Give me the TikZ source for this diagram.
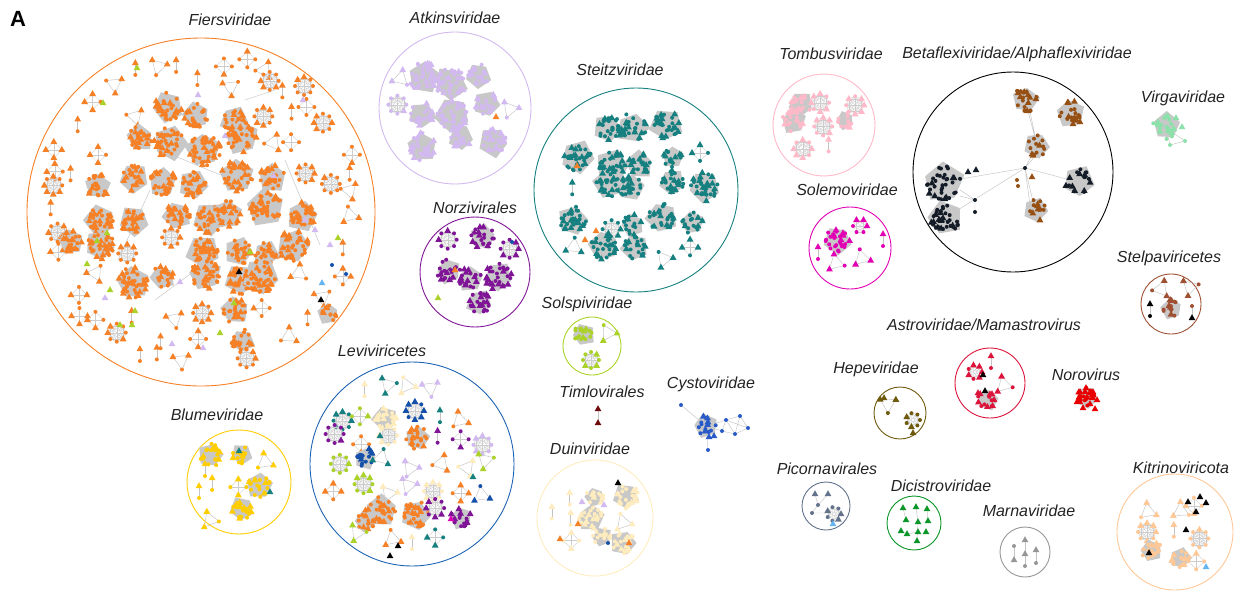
\documentclass[tikz,border=0pt]{standalone}
\usepackage{fontspec}
\newfontfamily\labfont{Liberation Sans}
\definecolor{orC}{RGB}{246,128,38}
\definecolor{blobG}{RGB}{200,200,200}
\definecolor{edgeG}{RGB}{195,195,195}
\definecolor{wedgeG}{RGB}{205,205,205}
\definecolor{lavC}{RGB}{210,185,240}
\definecolor{teC}{RGB}{22,128,128}
\definecolor{puC}{RGB}{128,20,150}
\definecolor{limeC}{RGB}{170,210,40}
\definecolor{tiC}{RGB}{110,10,10}
\definecolor{cyC}{RGB}{40,90,200}
\definecolor{pyC}{RGB}{255,236,190}
\definecolor{leC}{RGB}{30,100,180}
\definecolor{blC}{RGB}{20,80,170}
\definecolor{yeC}{RGB}{255,205,0}
\definecolor{piC}{RGB}{255,185,200}
\definecolor{brC}{RGB}{150,80,20}
\definecolor{naC}{RGB}{20,28,40}
\definecolor{mintC}{RGB}{140,225,170}
\definecolor{maC}{RGB}{225,0,180}
\definecolor{stC}{RGB}{160,80,50}
\definecolor{asC}{RGB}{220,20,60}
\definecolor{reC}{RGB}{232,0,0}
\definecolor{olC}{RGB}{110,90,10}
\definecolor{slC}{RGB}{100,115,140}
\definecolor{ltbC}{RGB}{100,180,240}
\definecolor{grC}{RGB}{10,150,40}
\definecolor{maGC}{RGB}{150,150,150}
\definecolor{peC}{RGB}{255,200,150}
\definecolor{txC}{RGB}{35,35,35}

\newcommand\NDotAt[2]{\fill[fill=#2] #1 circle (2pt);}
\newcommand\NTriAt[2]{\fill[fill=#2] #1 ++(0,-3.8) -- ++(3.4,6) -- ++(-6.8,0) -- cycle;}
\newcommand\NDot[3]{\NDotAt{(#1,#2)}{#3}}
\newcommand\NTri[3]{\NTriAt{(#1,#2)}{#3}}

\newcommand\NBlob[5]{%
  \pgfmathsetmacro\Qo{rnd*72}%
  \pgfmathsetmacro\Qa{#3*(0.9+0.3*rnd)}%
  \pgfmathsetmacro\Qb{#3*(0.9+0.3*rnd)}%
  \pgfmathsetmacro\Qc{#3*(0.9+0.3*rnd)}%
  \pgfmathsetmacro\Qd{#3*(0.9+0.3*rnd)}%
  \pgfmathsetmacro\Qe{#3*(0.9+0.3*rnd)}%
  \fill[blobG] ([shift={(#1,#2)}]\Qo:\Qa) -- ([shift={(#1,#2)}]\Qo+72:\Qb) -- ([shift={(#1,#2)}]\Qo+144:\Qc) -- ([shift={(#1,#2)}]\Qo+216:\Qd) -- ([shift={(#1,#2)}]\Qo+288:\Qe) -- cycle;
  \foreach \k in {1,...,#5}{%
    \pgfmathsetmacro\Ang{360*rnd}%
    \pgfmathsetmacro\Rad{#3*0.95*sqrt(rnd)}%
    \pgfmathsetmacro\Rt{rnd}%
    \ifdim\Rt pt<0.33pt \NTriAt{([shift={(#1,#2)}]\Ang:\Rad)}{#4}\else\NDotAt{([shift={(#1,#2)}]\Ang:\Rad)}{#4}\fi
  }}

\newcommand\NWheel[5]{%
  \foreach \p in {1,...,#4}{\foreach \q in {\p,...,#4}{\draw[wlnk] ([shift={(#1,#2)}]\p*360/#4:#3) -- ([shift={(#1,#2)}]\q*360/#4:#3);}}%
  \foreach \p in {1,...,#4}{\pgfmathsetmacro\Rt{rnd}\ifdim\Rt pt<0.4pt \NTriAt{([shift={(#1,#2)}]\p*360/#4:#3)}{#5}\else\NDotAt{([shift={(#1,#2)}]\p*360/#4:#3)}{#5}\fi}%
}

\newcommand\NPair[3]{\draw[lnk] (#1,#2-6) -- (#1,#2+6); \NTri{#1}{#2-6}{#3}\NDot{#1}{#2+6}{#3}}

\newcommand\NClique[3]{%
  \pgfmathsetmacro\Ca{rnd*360}%
  \draw[lnk] ([shift={(#1,#2)}]\Ca:9) -- ([shift={(#1,#2)}]\Ca+120:9) -- ([shift={(#1,#2)}]\Ca+240:9) -- cycle;
  \NTriAt{([shift={(#1,#2)}]\Ca:9)}{#3}\NDotAt{([shift={(#1,#2)}]\Ca+120:9)}{#3}\NTriAt{([shift={(#1,#2)}]\Ca+240:9)}{#3}}

% cx cy R spacing n ncolours(pc0..) blobprob blobradius innerfraction
\newcommand\NFill[9]{%
  \foreach \i in {-#5,...,#5}{\foreach \j in {-#5,...,#5}{%
    \pgfmathsetmacro\gx{#1+\i*#4+(rnd-0.5)*#4*0.55}%
    \pgfmathsetmacro\gy{#2+\j*#4+(rnd-0.5)*#4*0.55}%
    \pgfmathsetmacro\dd{sqrt(((\gx-#1)/100)^2+((\gy-#2)/100)^2)*100}%
    \pgfmathtruncatemacro\ins{(\dd<(#3-#4*0.45)) && (\dd>=#9*#3) ?1:0}%
    \ifnum\ins=1
      \pgfmathtruncatemacro\cn{min(#6-1,int(rnd*#6))}\edef\col{pc\cn}%
      \pgfmathsetmacro\Rt{rnd}%
      \pgfmathsetmacro\pb{\dd<0.72*#3 ? #7 : #7*0.3}%
      \ifdim\Rt pt<\pb pt
        \pgfmathsetmacro\br{#8*(0.8+0.4*rnd)}%
        \pgfmathtruncatemacro\Nd{max(4,\br*\br*0.14)}%
        \NBlob{\gx}{\gy}{\br}{\col}{\Nd}%
      \else
        \pgfmathtruncatemacro\ty{int(rnd*4)}%
        \ifcase\ty \NPair{\gx}{\gy}{\col}\or \NClique{\gx}{\gy}{\col}\or \NWheel{\gx}{\gy}{9}{8}{\col}\or \NWheel{\gx}{\gy}{8}{4}{\col}\fi
      \fi
    \fi
  }}}

\tikzset{
  lab/.style={font=\labfont\itshape\fontsize{16}{16}\selectfont, inner sep=0pt, text=txC},
  ring/.style={line width=0.9pt},
  lnk/.style={draw=edgeG, line width=0.45pt},
  wlnk/.style={draw=wedgeG, line width=0.3pt},
}

\begin{document}
\begin{tikzpicture}[x=1pt,y=-1pt]
\useasboundingbox (0,0) rectangle (1235,598);

% ---- rings
\draw[ring, draw=orC] (201,212) circle (174pt);
\draw[ring, draw=lavC] (455,108) circle (76pt);
\draw[ring, draw=teC] (636,190) circle (102pt);
\draw[ring, draw=puC] (475,272) circle (55pt);
\draw[ring, draw=limeC] (592,346) circle (29pt);
\draw[ring, draw=pyC] (595,518) circle (58pt);
\draw[ring, draw=leC] (412,464) circle (102pt);
\draw[ring, draw=yeC] (239,482) circle (52pt);
\draw[ring, draw=piC] (824,125) circle (51pt);
\draw[ring, draw=black] (1013,172) circle (100pt);
\draw[ring, draw=maC] (850,248) circle (41pt);
\draw[ring, draw=stC] (1171,304) circle (30pt);
\draw[ring, draw=asC] (990,383) circle (35pt);
\draw[ring, draw=olC] (900,413) circle (26pt);
\draw[ring, draw=slC] (826,506) circle (24pt);
\draw[ring, draw=grC] (914,523) circle (27pt);
\draw[ring, draw=maGC] (1025,552) circle (25pt);
\draw[ring, draw=peC] (1175,532) circle (58pt);

% ---- generated content
\pgfmathsetseed{11}
\colorlet{pc0}{orC}
\draw[lnk] (160,150) -- (228,178) (150,190) -- (118,260) (212,258) -- (155,300) (245,100) -- (275,90) (285,160) -- (320,245);
\NFill{201}{212}{152}{33}{5}{1}{0.9}{14.5}{0}
\pgfmathsetseed{12}
\NFill{201}{212}{174}{21}{8}{1}{0.15}{10}{0.83}
\pgfmathsetseed{23}
\colorlet{pc0}{lavC}
\NFill{455}{108}{76}{31}{2}{1}{0.85}{14}{0}
\pgfmathsetseed{37}
\colorlet{pc0}{teC}
\NFill{636}{190}{102}{31}{4}{1}{0.85}{13}{0}
\pgfmathsetseed{41}
\colorlet{pc0}{puC}
\NFill{475}{272}{55}{28}{1}{1}{0.8}{14}{0}
\pgfmathsetseed{53}
\colorlet{pc0}{pyC}
\NFill{595}{518}{58}{25}{2}{1}{0.5}{11}{0}
\pgfmathsetseed{67}
\colorlet{pc0}{orC}\colorlet{pc1}{limeC}\colorlet{pc2}{lavC}\colorlet{pc3}{puC}
\colorlet{pc4}{teC}\colorlet{pc5}{blC}\colorlet{pc6}{pyC}\colorlet{pc7}{orC}
\NFill{412}{464}{102}{25}{4}{8}{0.45}{12.5}{0}
\pgfmathsetseed{71}
\colorlet{pc0}{yeC}
\NFill{239}{482}{52}{27}{1}{1}{0.9}{12}{0}
\NPair{205}{470}{yeC}\NPair{199}{492}{yeC}\NClique{265}{462}{yeC}\NClique{210}{520}{yeC}
\pgfmathsetseed{83}
\colorlet{pc0}{piC}
\NFill{824}{125}{51}{27}{1}{1}{0.3}{11}{0}
\pgfmathsetseed{97}
\colorlet{pc0}{peC}
\NFill{1175}{532}{58}{25}{2}{1}{0.2}{11}{0}

% Fiersviridae extras
\foreach \x/\y in {137/68,103/103,107/233,97/241,87/264,110/290,135/311,250/252,234/303,120/325,132/325,220/333,338/238}{\NTri{\x}{\y}{limeC}}
\foreach \x/\y in {198/95,225/136,303/100,274/176,305/220,315/230,330/245,180/282,105/298,172/344,203/348}{\NTri{\x}{\y}{lavC}}
\NTri{239}{272}{black}\NTri{321}{300}{black}\NTri{322}{283}{ltbC}
\NDot{332}{265}{blC}\NDot{346}{274}{blC}
% Atkins / Steitz / Norzi extras
\NTri{496}{117}{orC}
\NTri{577}{166}{orC}\NTri{596}{231}{orC}\NTri{585}{240}{orC}
\NTri{455}{270}{orC}\NTri{438}{298}{limeC}\NDot{512}{242}{blC}
% Leviviricetes extras
\NTri{398}{546}{black}\NTri{390}{556}{black}\NTri{451}{519}{maC}\NTri{380}{436}{teC}\NTri{473}{477}{teC}
% Blumeviridae extras
\NTri{239}{451}{teC}\NTri{270}{492}{teC}
% Duinviridae extras
\NTri{618}{483}{black}\NTri{578}{524}{orC}\NTri{560}{539}{orC}\NTri{629}{543}{orC}
\NTri{582}{502}{lavC}\NTri{604}{505}{lavC}\NDot{608}{543}{blC}
% Kitrinoviricota extras
\foreach \x/\y in {1188/502,1200/497,1206/503,1196/512,1186/530,1149/553}{\NTri{\x}{\y}{black}}
\NTri{1206}{567}{ltbC}

% Solspiviridae
\pgfmathsetseed{5}
\NBlob{583}{335}{11}{limeC}{16}
\NWheel{591}{360}{8}{8}{limeC}
\NClique{608}{333}{limeC}
% Timlovirales
\draw[lnk] (598,409) -- (598,423);
\NTri{598}{409}{tiC}\NTri{598}{423}{tiC}
% Cystoviridae
\coordinate (cyhub) at (706,426);
\coordinate (cyl) at (681,405);
\coordinate (cyb) at (708,450);
\coordinate (cy1) at (726,420);
\coordinate (cy2) at (740,416);
\coordinate (cy3) at (748,428);
\coordinate (cy4) at (735,434);
\coordinate (cy5) at (722,431);
\draw[lnk] (cyl) -- (cyhub) -- (cyb);
\draw[lnk] (cyhub) -- (cy1) -- (cy2) -- (cy3) -- (cy4) -- (cy5) -- (cy1) -- (cy3) (cy2) -- (cy4) (cy5) -- (cyhub) (cy1) -- (cy4);
\NBlob{706}{426}{11}{cyC}{16}
\NTri{709}{437}{cyC}\NTri{714}{436}{cyC}
\NDotAt{(cyl)}{cyC}\NDotAt{(cyb)}{cyC}\NDotAt{(cy1)}{cyC}\NDotAt{(cy2)}{cyC}\NDotAt{(cy3)}{cyC}\NDotAt{(cy4)}{cyC}\NDotAt{(cy5)}{cyC}

% Betaflexiviridae / Alphaflexiviridae
\coordinate (bhub) at (1025,168);
\draw[lnk] (bhub) -- (943,182) (bhub) -- (945,218) (bhub) -- (1078,182) (bhub) -- (1035,210) (bhub) -- (1037,145) (1037,145) -- (1025,100) (1037,145) -- (1030,112) (bhub) -- (1040,150) (bhub) -- (1030,205);
\draw[lnk] (960,196) -- (975,200) -- (975,212) (960,190) -- (975,200);
\pgfmathsetseed{7}
\NBlob{1025}{100}{13}{brC}{20}
\NBlob{1070}{113}{13}{brC}{20}
\NBlob{1037}{145}{12}{brC}{14}
\NBlob{1035}{210}{12}{brC}{14}
\NBlob{943}{182}{19}{naC}{34}
\NBlob{945}{218}{16}{naC}{34}
\NBlob{1078}{182}{15}{naC}{18}
\NTri{1028}{95}{brC}\NTri{1018}{93}{brC}\NTri{1073}{124}{brC}\NTri{1080}{122}{brC}
\NTri{953}{178}{naC}\NTri{968}{172}{naC}\NTri{976}{170}{naC}
\NDotAt{(bhub)}{naC}\NTri{1032}{177}{brC}\NDot{1017}{180}{brC}\NDot{1018}{186}{brC}
\NDot{975}{200}{naC}\NDot{975}{212}{naC}
% Virgaviridae
\draw[lnk] (1166,128) -- (1170,145) -- (1185,141) -- (1166,128);
\NBlob{1166}{126}{14}{mintC}{22}
\NTri{1158}{122}{mintC}\NTri{1176}{118}{mintC}\NTri{1182}{127}{mintC}
\NDot{1170}{145}{mintC}\NDot{1185}{141}{mintC}
% Solemoviridae
\NBlob{838}{240}{13}{maC}{24}
\NTri{836}{230}{maC}\NTri{843}{233}{maC}
\NWheel{860}{226}{7}{6}{maC}
\NPair{883}{240}{maC}
\NPair{818}{253}{maC}
\NClique{836}{263}{maC}
\NClique{862}{258}{maC}
% Stelpaviricetes
\NBlob{1172}{309}{10}{stC}{12}
\NClique{1161}{289}{stC}
\NClique{1190}{287}{stC}
\NPair{1150}{310}{black}
\draw[lnk] (1192,306) -- (1192,318);
\NDot{1192}{306}{stC}\NTri{1192}{318}{black}
% Astroviridae / Mamastrovirus
\NWheel{975}{372}{7}{7}{asC}
\NTri{983}{375}{black}
\NBlob{987}{400}{10}{asC}{14}
\NTri{985}{391}{black}\NTri{978}{393}{asC}\NTri{992}{394}{asC}
\NClique{1004}{385}{asC}
\NPair{991}{362}{asC}
% Hepeviridae
\NClique{888}{404}{olC}
\NWheel{913}{420}{7}{7}{olC}
\NTri{913}{433}{olC}\NTri{884}{398}{olC}
% Norovirus
\NBlob{1087}{398}{11}{reC}{18}
\foreach \x/\y in {1080/392,1086/388,1093/392,1077/402,1090/404,1097/400,1083/408,1095/409,1087/397}{\NTri{\x}{\y}{reC}}
% Picornavirales
\draw[lnk] (815,494) -- (818,505) -- (828,494) (818,505) -- (812,513) (812,513) -- (826,513);
\NTri{815}{494}{slC}\NTri{828}{494}{slC}\NDot{818}{505}{slC}\NDot{812}{513}{slC}
\NWheel{834}{514}{7}{7}{slC}
\NTri{833}{524}{ltbC}
% Dicistroviridae
\draw[lnk] (903,508) -- (906,520) (916,507) -- (918,522) (927,509) -- (928,521) (907,534) -- (918,532) (901,531) -- (907,534) (918,522) -- (917,540);
\foreach \x/\y in {903/508,916/507,927/509,906/520,918/522,928/521,907/534,918/532,901/531,917/541,926/532}{\NTri{\x}{\y}{grC}}
% Marnaviridae
\draw[lnk] (1025,540) -- (1025,566) (1014,546) -- (1014,560) (1036,550) -- (1036,563);
\NTri{1025}{540}{maGC}\NTri{1025}{554}{maGC}\NTri{1014}{560}{maGC}\NTri{1036}{550}{maGC}
\NDot{1014}{546}{maGC}\NDot{1025}{566}{maGC}\NDot{1036}{563}{maGC}

% ---- labels
\node[font=\labfont\bfseries\fontsize{22}{22}\selectfont, inner sep=0pt] (pA) at (18,19) {A};
\node[lab] (lfiers) at (230,20) {Fiersviridae};
\node[lab] (latkins) at (455,18) {Atkinsviridae};
\node[lab] (lsteitz) at (620,70) {Steitzviridae};
\node[lab] (lnorzi) at (475,208) {Norzivirales};
\node[lab] (lsolspi) at (587,304) {Solspiviridae};
\node[lab] (ltimlo) at (602,392) {Timlovirales};
\node[lab] (lcysto) at (711,384) {Cystoviridae};
\node[lab] (lduin) at (590,449) {Duinviridae};
\node[lab] (llevi) at (382,351) {Leviviricetes};
\node[lab] (lblume) at (217,415) {Blumeviridae};
\node[lab] (ltombus) at (831,54) {Tombusviridae};
\node[lab] (lbeta) at (1017,54) {Betaflexiviridae/Alphaflexiviridae};
\node[lab] (lvirga) at (1183,98) {Virgaviridae};
\node[lab] (lsolemo) at (847,190) {Solemoviridae};
\node[lab] (lstelpa) at (1169,258) {Stelpaviricetes};
\node[lab] (lastro) at (984,325) {Astroviridae/Mamastrovirus};
\node[lab] (lhepe) at (876,369) {Hepeviridae};
\node[lab] (lnoro) at (1086,375) {Norovirus};
\node[lab] (lpicorna) at (827,469) {Picornavirales};
\node[lab] (ldicistro) at (941,486) {Dicistroviridae};
\node[lab] (lmarna) at (1029,511) {Marnaviridae};
\node[lab] (lkitrino) at (1181,468) {Kitrinoviricota};
\end{tikzpicture}
\end{document}
